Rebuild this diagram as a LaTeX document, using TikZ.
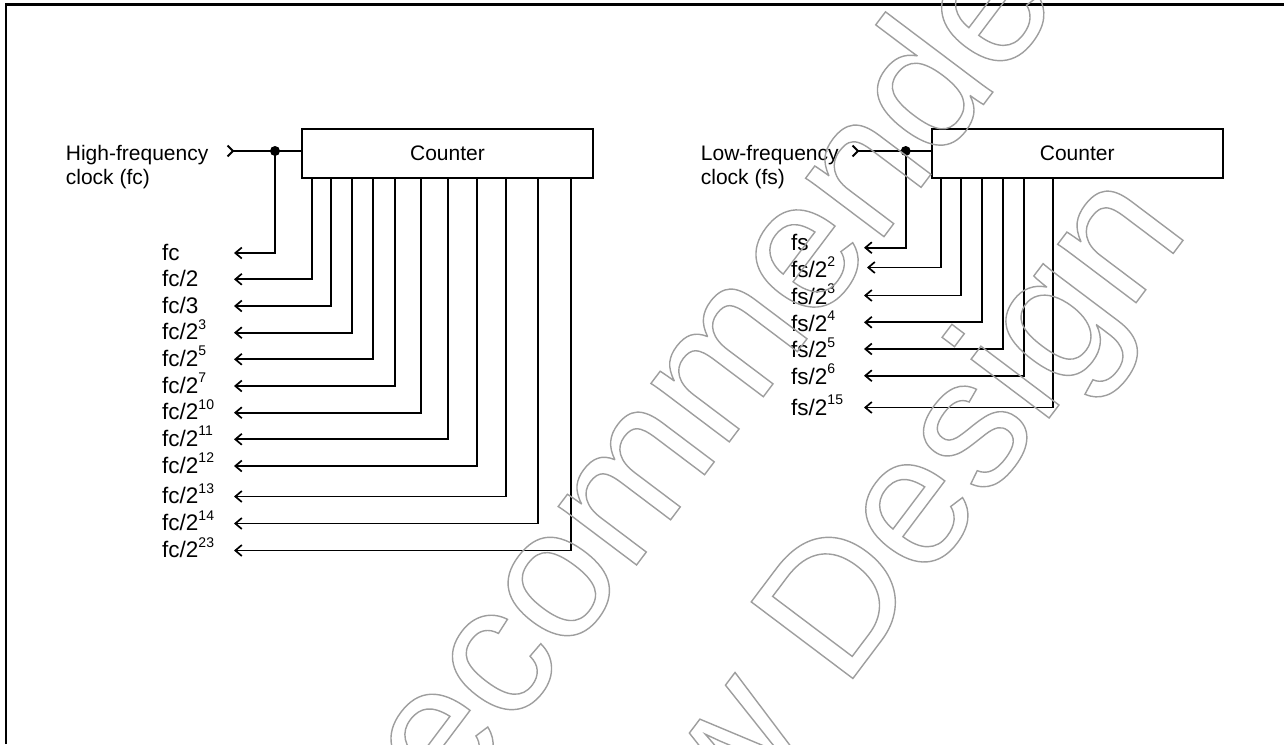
\documentclass[tikz,border=0pt]{standalone}
\usepackage{fontspec}
\setmainfont{Liberation Sans}
\usetikzlibrary{arrows.meta}
\newcommand\mysup[1]{\raisebox{10.5pt}{\fontsize{14}{14}\selectfont #1}}
\newcommand\outlinetext[1]{\special{pdf:literal direct 1 Tr 1.4 w 0.62 G}#1\special{pdf:literal direct 0 Tr 0 G}}
\begin{document}
\begin{tikzpicture}[x=1pt,y=-1pt,
  wire/.style={line width=1.9pt},
  arr/.style={wire,-{Straight Barb[length=6.5pt,width=11pt,line width=1.7pt]}},
  ctr/.style={draw,line width=1.9pt,minimum width=291pt,minimum height=48.5pt,inner sep=0pt,font=\fontsize{21}{23}\selectfont},
  lbl/.style={anchor=base west,inner sep=0pt,font=\fontsize{22.5}{24}\selectfont},
  clk/.style={anchor=west,inner sep=0pt,align=left,font=\fontsize{21}{23.3}\selectfont},
  frame/.style={line width=2.4pt},
  wmark/.style={anchor=base,inner sep=0pt,rotate=53,font=\fontsize{185}{190}\selectfont},
]
\useasboundingbox (0,0) rectangle (1284,744);
\draw[frame] (6,744) -- (6,4.5) -- (1284,4.5);

% ---------- left: high-frequency ----------
\node[ctr] (cntL) at (447.5,153.5) {Counter};
\node[clk] (clkL) at (65.7,167) {High-frequency\\clock (fc)};
\coordinate (inL) at (233,151);
\coordinate (dotL) at (275,151);
\draw[wire] (inL) ++(-5.5,-5.5) -- (inL) -- ++(-5.5,5.5);
\draw[wire] (inL) -- (inL -| cntL.west);
\fill (dotL) circle (5);

\foreach \n/\r in {0/253,1/279.3,2/306,3/332.7,4/359.3,5/386,6/412.7,7/439.3,8/466,9/496.5,10/523.5,11/550.5}
  \coordinate (tf\n) at (234,\r);

\node[lbl] (lf0) at (162,260) {fc};
\node[lbl] (lf1) at (162,286.3) {fc/2};
\node[lbl] (lf2) at (162,313) {fc/3};
\node[lbl] (lf3) at (162,339.7) {fc/2\mysup{3}};
\node[lbl] (lf4) at (162,366.3) {fc/2\mysup{5}};
\node[lbl] (lf5) at (162,393) {fc/2\mysup{7}};
\node[lbl] (lf6) at (162,419.7) {fc/2\mysup{10}};
\node[lbl] (lf7) at (162,446.3) {fc/2\mysup{11}};
\node[lbl] (lf8) at (162,473) {fc/2\mysup{12}};
\node[lbl] (lf9) at (162,503.5) {fc/2\mysup{13}};
\node[lbl] (lf10) at (162,530.5) {fc/2\mysup{14}};
\node[lbl] (lf11) at (162,557.5) {fc/2\mysup{23}};

\draw[arr] (dotL) |- (tf0);
\foreach \n/\dx in {1/10.7,2/29.7,3/51.3,4/72.3,5/93.7,6/120.3,7/147.3,8/176.3,9/205.3,10/237.3,11/269.7}
  \draw[arr] ([xshift=\dx pt]cntL.south west) |- (tf\n);

% ---------- right: low-frequency ----------
\node[ctr] (cntR) at (1077.2,153.5) {Counter};
\node[clk] (clkR) at (700.7,167) {Low-frequency\\clock (fs)};
\coordinate (inR) at (858,151);
\coordinate (dotR) at (905.7,151);
\draw[wire] (inR) ++(-5.5,-5.5) -- (inR) -- ++(-5.5,5.5);
\draw[wire] (inR) -- (inR -| cntR.west);
\fill (dotR) circle (5);

\foreach \n/\r/\tx in {0/247.7/864,1/267.5/867,2/295.5/864,3/322.3/864,4/349/864,5/375.7/864,6/407.5/864}
  \coordinate (ts\n) at (\tx,\r);

\node[lbl] (ls0) at (791,250) {fs};
\node[lbl] (ls1) at (791,277) {fs/2\mysup{2}};
\node[lbl] (ls2) at (791,304) {fs/2\mysup{3}};
\node[lbl] (ls3) at (791,331) {fs/2\mysup{4}};
\node[lbl] (ls4) at (791,357.5) {fs/2\mysup{5}};
\node[lbl] (ls5) at (791,384) {fs/2\mysup{6}};
\node[lbl] (ls6) at (791,415) {fs/2\mysup{15}};

\draw[arr] (dotR) |- (ts0);
\foreach \n/\dx in {1/10.6,2/30,3/51,4/72.3,5/93.6,6/122.6}
  \draw[arr] ([xshift=\dx pt]cntR.south west) |- (ts\n);

% ---------- watermark ----------
\node[wmark] (wm1) at (644.5,554.4) {\outlinetext{Not Recommended}};
\node[wmark] (wm2) at (809.9,735.5) {\outlinetext{for New Design}};
\end{tikzpicture}
\end{document}
